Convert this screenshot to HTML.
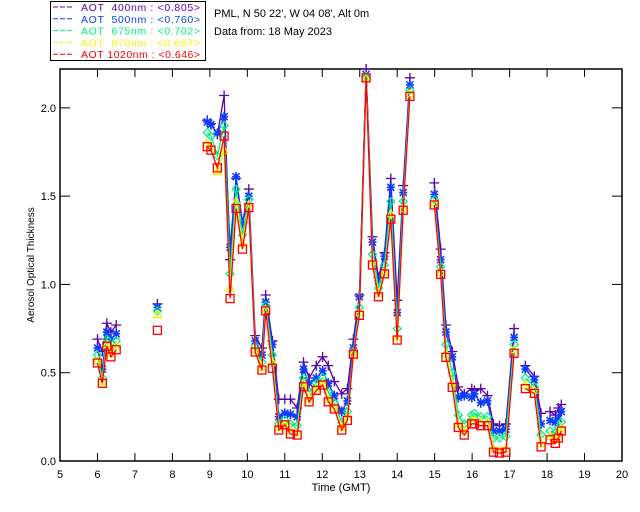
<!DOCTYPE html>
<html><head><meta charset="utf-8">
<style>
html,body{margin:0;padding:0;background:#fff;}
svg{display:block;font-family:"Liberation Sans",sans-serif;}
</style></head>
<body>
<svg id="chart" width="640" height="512" viewBox="0 0 640 512">
  <g>
    <rect x="50.5" y="1.5" width="155" height="59" fill="#fff" stroke="#000" stroke-width="1"/>
  </g>
  <g id="legend-items"></g>
  <text x="214" y="17" font-size="11" fill="#000">PML, N 50 22', W 04 08', Alt 0m</text>
  <text x="214" y="35" font-size="11" fill="#000">Data from: 18 May 2023</text>
  <g id="axes"></g>
  <g id="series"></g>
  <text x="341" y="491" font-size="11" text-anchor="middle">Time (GMT)</text>
  <text x="34" y="265" font-size="10" text-anchor="middle" transform="rotate(-90 34 265)">Aerosol Optical Thickness</text>
</svg>
<script>
const times = [6.0,6.13,6.25,6.36,6.5,null,7.6,null,8.93,9.03,9.2,9.38,9.54,9.7,9.87,10.04,10.21,10.39,10.49,10.67,10.84,11.0,11.15,11.33,11.5,11.65,11.84,12.01,12.16,12.32,12.52,12.67,12.83,12.99,13.17,13.34,13.5,13.66,13.83,14.0,14.16,14.34,null,14.99,15.16,15.3,15.47,15.63,15.79,15.99,16.06,16.23,16.41,16.57,16.73,16.9,17.12,null,17.42,17.66,17.84,null,18.08,18.22,18.3,18.38];
const aot400 = [0.69,0.62,0.78,0.73,0.77,null,0.89,null,1.93,1.91,1.85,2.07,1.14,1.6,1.35,1.54,0.71,0.64,0.94,0.68,0.35,0.35,0.35,0.30,0.56,0.47,0.54,0.59,0.54,0.45,0.38,0.41,0.69,0.94,2.22,1.27,1.04,1.18,1.60,0.91,1.56,2.17,null,1.575,1.2,0.77,0.62,0.42,0.38,0.41,0.40,0.41,0.37,0.21,0.20,0.21,0.75,null,0.54,0.48,0.27,null,0.28,0.26,0.30,0.32];
const aot500 = [0.64,0.52,0.73,0.69,0.72,null,0.87,null,1.92,1.905,1.855,1.95,1.21,1.61,1.345,1.50,0.68,0.60,0.90,0.66,0.25,0.27,0.265,0.25,0.52,0.44,0.47,0.51,0.44,0.37,0.28,0.34,0.64,0.93,2.19,1.24,1.02,1.16,1.55,0.84,1.52,2.13,null,1.51,1.14,0.73,0.59,0.36,0.37,0.36,0.38,0.33,0.34,0.17,0.17,0.18,0.70,null,0.52,0.46,0.21,null,0.23,0.22,0.24,0.28];
const aot675 = [0.60,0.47,0.69,0.64,0.68,null,0.85,null,1.86,1.84,1.73,1.90,1.06,1.54,1.28,1.48,0.65,0.56,0.88,0.60,0.21,0.23,0.21,0.20,0.47,0.39,0.44,0.47,0.39,0.33,0.22,0.28,0.62,0.87,2.18,1.17,0.98,1.11,1.47,0.75,1.47,2.10,null,1.48,1.10,0.66,0.50,0.26,0.21,0.26,0.27,0.25,0.25,0.13,0.13,0.14,0.66,null,0.47,0.42,0.15,null,0.17,0.16,0.19,0.22];
const aot870 = [0.57,0.45,0.66,0.61,0.65,null,0.83,null,1.80,1.78,1.64,1.76,0.98,1.47,1.23,1.45,0.63,0.53,0.86,0.56,0.19,0.21,0.17,0.16,0.44,0.35,0.41,0.44,0.35,0.30,0.19,0.25,0.61,0.84,2.17,1.13,0.95,1.07,1.40,0.70,1.43,2.08,null,1.46,1.07,0.61,0.44,0.21,0.17,0.23,0.23,0.22,0.22,0.07,0.06,0.07,0.63,null,0.43,0.40,0.10,null,0.14,0.12,0.15,0.19];
const aot1020 = [0.555,0.44,0.65,0.59,0.63,null,0.74,null,1.78,1.76,1.66,1.84,0.92,1.43,1.20,1.435,0.617,0.515,0.85,0.525,0.175,0.205,0.153,0.147,0.42,0.335,0.40,0.43,0.335,0.295,0.175,0.23,0.605,0.825,2.17,1.11,0.93,1.06,1.37,0.685,1.42,2.065,null,1.45,1.057,0.587,0.417,0.19,0.147,0.21,0.21,0.20,0.20,0.05,0.045,0.05,0.61,null,0.41,0.383,0.08,null,0.12,0.10,0.13,0.17];
const xTicks = [5,6,7,8,9,10,11,12,13,14,15,16,17,18,19,20];
const yTicks = [0.0,0.5,1.0,1.5,2.0];
const legendLabels = ["AOT  400nm : <0.805>","AOT  500nm : <0.760>","AOT  675nm : <0.702>","AOT  870nm : <0.667>","AOT 1020nm : <0.646>"];

const NS = "http://www.w3.org/2000/svg";
const L = 60, R = 622, T = 69, B = 461;
const X0 = 5, X1 = 20, Y0 = 0, Y1 = 2.22;
function xs(t){ return L + (t - X0) / (X1 - X0) * (R - L); }
function ys(v){ return B - (v - Y0) / (Y1 - Y0) * (B - T); }
function mk(tag, attrs, parent){ const e = document.createElementNS(NS, tag); for (const k in attrs) e.setAttribute(k, attrs[k]); parent.appendChild(e); return e; }

const axes = document.getElementById('axes');
const frame = mk('rect', {x:L, y:T, width:R-L, height:B-T, fill:'none', stroke:'#000', 'stroke-width':1.5}, axes);


xTicks.forEach(t => {
  const x = xs(t);
  const tb = mk('line', {x1:x, y1:B, x2:x, y2:B-8, stroke:'#000', 'stroke-width':1}, axes);
  
  
  const tt = mk('line', {x1:x, y1:T, x2:x, y2:T+8, stroke:'#000', 'stroke-width':1}, axes);
  
  
  const lb = mk('text', {x:x, y:B+17, 'font-size':11, 'text-anchor':'middle'}, axes);
  lb.textContent = String(t);
  
  
});
yTicks.forEach(v => {
  const y = ys(v);
  const tl = mk('line', {x1:L, y1:y, x2:L+10, y2:y, stroke:'#000', 'stroke-width':1}, axes);
  
  
  const tr = mk('line', {x1:R, y1:y, x2:R-10, y2:y, stroke:'#000', 'stroke-width':1}, axes);
  
  
  const lb = mk('text', {x:L-4, y:y+4, 'font-size':11, 'text-anchor':'end'}, axes);
  lb.textContent = v.toFixed(1);
  
  
});

const seriesDefs = [
  {vals:aot400, color:'#5c00a8', m:'plus', name:'series-400nm'},
  {vals:aot500, color:'#0a3cff', m:'star', name:'series-500nm'},
  {vals:aot675, color:'#00f080', m:'diamond', name:'series-675nm'},
  {vals:aot870, color:'#f5f500', m:'triangle', name:'series-870nm'},
  {vals:aot1020, color:'#ff0000', m:'square', name:'series-1020nm'}
];

const clip = mk('clipPath', {id:'pc'}, document.getElementById('chart'));
mk('rect', {x:L, y:T-6, width:R-L, height:B-T+6}, clip);

const sg = document.getElementById('series');
seriesDefs.forEach((s, si) => {
  const g = mk('g', {'clip-path':'url(#pc)'}, sg);
  
  
  let d = '', pen = false;
  const n = Math.min(times.length, s.vals.length);
  for (let i = 0; i < n; i++) {
    if (times[i] === null || s.vals[i] === null) { pen = false; continue; }
    const x = xs(times[i]), y = ys(s.vals[i]);
    d += (pen ? 'L' : 'M') + x.toFixed(1) + ' ' + y.toFixed(1) + ' ';
    pen = true;
  }
  const path = mk('path', {d:d, fill:'none', stroke:s.color, 'stroke-width':1.3}, g);
  
  
  for (let i = 0; i < n; i++) {
    if (times[i] === null || s.vals[i] === null) continue;
    const x = xs(times[i]), y = ys(s.vals[i]);
    let el;
    if (s.m === 'plus') el = mk('path', {d:`M${x-5} ${y}H${x+5}M${x} ${y-5}V${y+5}`, stroke:s.color, 'stroke-width':1.3, fill:'none'}, g);
    else if (s.m === 'star') el = mk('path', {d:`M${x-4} ${y}H${x+4}M${x} ${y-5}V${y+5}M${x-3.5} ${y-3.5}L${x+3.5} ${y+3.5}M${x-3.5} ${y+3.5}L${x+3.5} ${y-3.5}`, stroke:s.color, 'stroke-width':1.6, fill:'none'}, g);
    else if (s.m === 'diamond') el = mk('path', {d:`M${x} ${y-4}L${x+4} ${y}L${x} ${y+4}L${x-4} ${y}Z`, stroke:s.color, 'stroke-width':1.2, fill:'none'}, g);
    else if (s.m === 'triangle') el = mk('path', {d:`M${x} ${y-4}L${x+4} ${y+3}L${x-4} ${y+3}Z`, stroke:s.color, 'stroke-width':1.3, fill:'none'}, g);
    else el = mk('rect', {x:x-4, y:y-4, width:8, height:8, stroke:s.color, 'stroke-width':1.3, fill:'none'}, g);
    
    
  }
  const lg = document.getElementById('legend-items');
  const ly = 7 + si * 11.8;
  const dl = mk('line', {x1:53, y1:ly, x2:73, y2:ly, stroke:s.color, 'stroke-width':1, 'stroke-dasharray':'5 2'}, lg);
  
  
  const lt = mk('text', {x:81, y:ly+4, 'font-size':10.5, fill:s.color, textLength:119, lengthAdjust:'spacing'}, lg);
  lt.setAttribute('style', 'white-space:pre');
  lt.textContent = legendLabels[si];
  
  
});
</script>
</body></html>
